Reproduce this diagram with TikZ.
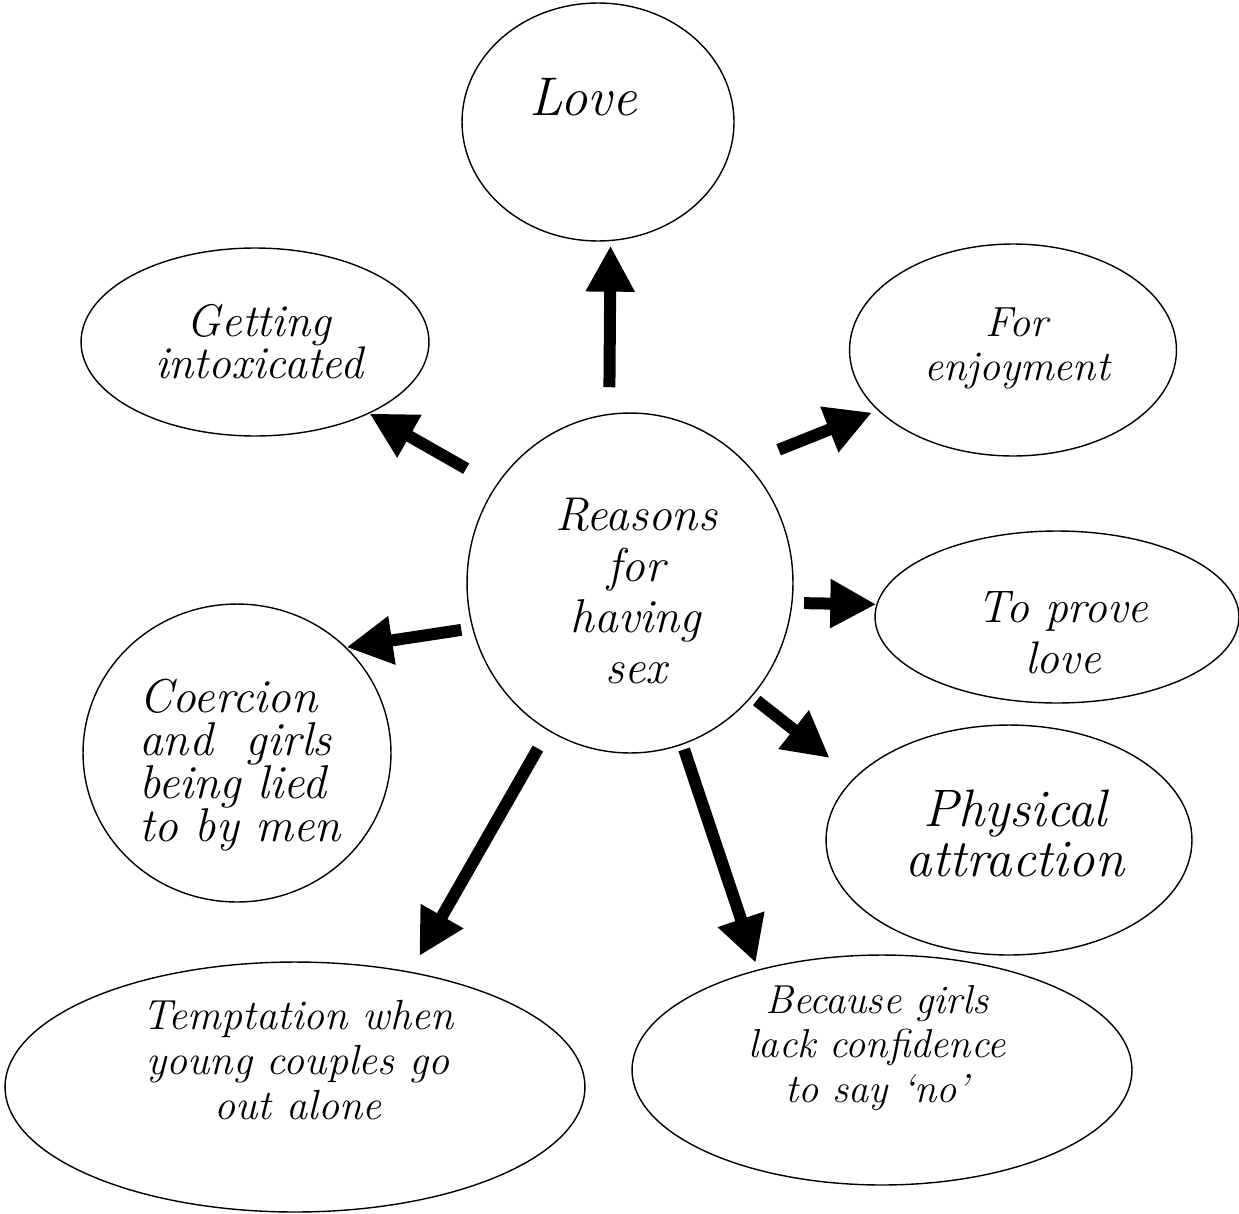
\documentclass[tikz,border=0pt]{standalone}
\usetikzlibrary{shapes.geometric,arrows.meta}

\tikzset{
  bubble/.style={draw, ellipse, line width=0.8pt, inner sep=0pt},
  words/.style={align=center, inner sep=0pt},
  push/.style={line width=0.24cm, -{Triangle[length=0.92cm, width=0.92cm]}}
}

\begin{document}
\begin{tikzpicture}[x=0.02cm, y=-0.02cm]
\useasboundingbox (0,0) rectangle (1239,1213);

\node[bubble, minimum width=6.52cm, minimum height=6.8cm] (reasons) at (630,583) {};
\node[bubble, minimum width=5.44cm, minimum height=4.76cm] (love) at (598,122) {};
\node[bubble, minimum width=6.96cm, minimum height=3.76cm] (intox) at (255,342) {};
\node[bubble, minimum width=6.54cm, minimum height=4.24cm] (enjoy) at (1013,350) {};
\node[bubble, minimum width=7.28cm, minimum height=3.44cm] (prove) at (1057,617) {};
\node[bubble, minimum width=6.16cm, minimum height=5.96cm] (coerc) at (237,753) {};
\node[bubble, minimum width=7.32cm, minimum height=4.6cm] (phys) at (1009,840) {};
\node[bubble, minimum width=11.6cm, minimum height=5.0cm] (tempt) at (295,1087) {};
\node[bubble, minimum width=10.0cm, minimum height=4.6cm] (because) at (882,1070) {};

\node[words, font=\itshape\fontsize{27}{29}\selectfont] (reasonstxt) at (636,591) {Reasons\\for\\having\\sex};
\node[words, font=\itshape\fontsize{31}{36}\selectfont] (lovetxt) at (583,97) {Love};
\node[words, font=\itshape\fontsize{26}{24}\selectfont] (intoxtxt) at (259,342) {Getting\\intoxicated};
\node[words, font=\itshape\fontsize{24}{25}\selectfont] (enjoytxt) at (1017,348) {For\\enjoyment};
\node[words, font=\itshape\fontsize{26}{29}\selectfont] (provetxt) at (1063,633) {To prove\\love};
\node[words, align=left, font=\itshape\fontsize{27}{24.5}\selectfont] (coerctxt) at (240,765) {Coercion\\and\ \ girls\\being lied\\to by men};
\node[words, font=\itshape\fontsize{30}{28.5}\selectfont] (phystxt) at (1015,833) {Physical\\attraction};
\node[words, font=\itshape\fontsize{24}{25.5}\selectfont] (tempttxt) at (298,1060) {Temptation when\\young couples go\\out alone};
\node[words, font=\itshape\fontsize{23}{25.5}\selectfont] (becausetxt) at (877,1048) {Because girls\\lack confidence\\to say `no'};

\draw[push, shorten <=0.53cm, shorten >=0.09cm] (reasons.97) -- (love.276);
\draw[push, shorten <=0.68cm] (reasons.144) -- (intox.328);
\draw[push, shorten <=0.70cm, shorten >=0.12cm] (reasons.46) -- (enjoy.204);
\draw[push, shorten <=0.23cm] (reasons.353) -- (prove.176);
\draw[push, shorten <=0.22cm] (reasons.196) -- (coerc.44);
\draw[push, shorten <=0.12cm, shorten >=0.63cm] (reasons.317) -- (phys.158);
\draw[push, shorten <=0.41cm, shorten >=0.36cm] (reasons.241) -- (tempt.45);
\draw[push, shorten <=0.10cm, shorten >=0.14cm] (reasons.288) -- (because.141);
\end{tikzpicture}
\end{document}
